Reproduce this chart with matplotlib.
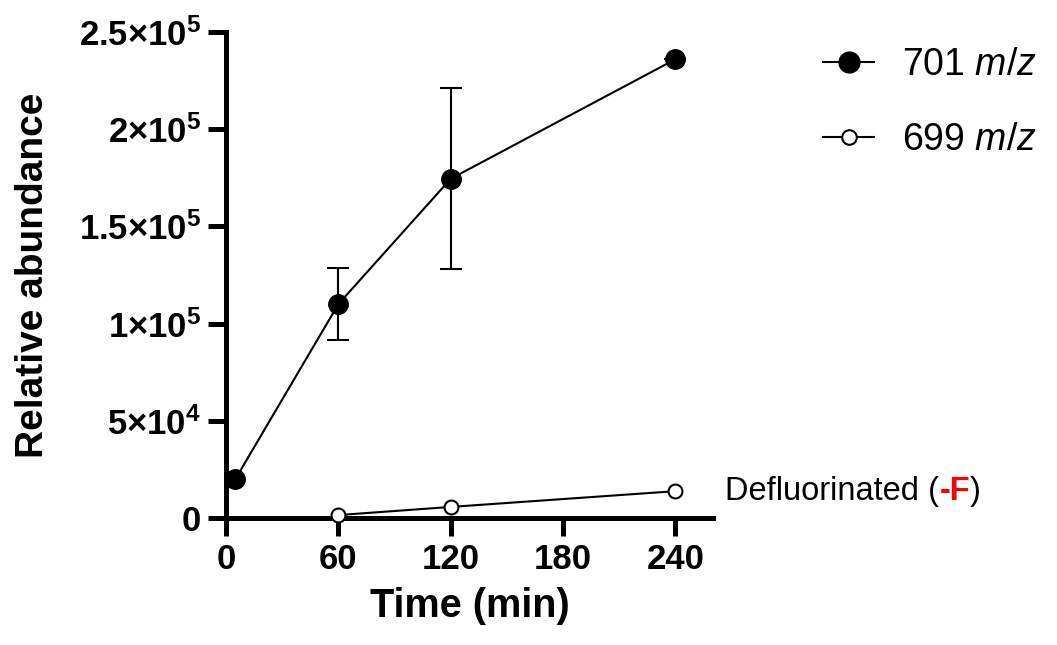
import matplotlib
matplotlib.use("Agg")
import matplotlib.pyplot as plt
from matplotlib.lines import Line2D
from matplotlib.ticker import FixedLocator, FixedFormatter

plt.rcParams['font.family'] = ['Liberation Sans', 'DejaVu Sans']
plt.rcParams['mathtext.fontset'] = 'custom'
plt.rcParams['mathtext.rm'] = 'Liberation Sans'
plt.rcParams['mathtext.it'] = 'Liberation Sans:italic'
plt.rcParams['mathtext.bf'] = 'Liberation Sans:bold'

# time course, minutes
time_701 = [5, 60, 120, 240]
abund_701 = [20000, 110000, 174500, 236000]
err_701 = [0, 18500, 46500, 0]

time_699 = [60, 120, 240]
abund_699 = [1500, 5700, 13800]

x_ticks = [0, 60, 120, 180, 240]
y_ticks = [0, 50000, 100000, 150000, 200000, 250000]
y_tick_labels = ['0', r'5×10$\mathbf{^{4}}$', r'1×10$\mathbf{^{5}}$',
                 r'1.5×10$\mathbf{^{5}}$', r'2×10$\mathbf{^{5}}$',
                 r'2.5×10$\mathbf{^{5}}$']

fig = plt.figure(figsize=(10.57, 6.45), dpi=100)
ax = fig.add_axes([0.2138, 0.1969, 0.4607, 0.7535])

ax.errorbar(time_701, abund_701, yerr=err_701, color='black', lw=1.5,
            marker='o', markersize=14, markerfacecolor='black',
            ecolor='black', elinewidth=1.5, capsize=8, capthick=1.5,
            clip_on=False, zorder=3)
ax.plot(time_699, abund_699, color='black', lw=1.5, marker='o',
        markersize=10, markerfacecolor='white', markeredgewidth=1.5,
        clip_on=False, zorder=3)

ax.set_xlim(0, 260)
ax.set_ylim(0, 250000)
ax.xaxis.set_major_locator(FixedLocator(x_ticks))
ax.yaxis.set_major_locator(FixedLocator(y_ticks))
ax.yaxis.set_major_formatter(FixedFormatter(y_tick_labels))

for side in ['top', 'right']:
    ax.spines[side].set_visible(False)
for side in ['left', 'bottom']:
    ax.spines[side].set_linewidth(3.6)
ax.tick_params(width=3.6, length=13, labelsize=25, pad=5)
for lab in ax.get_xticklabels() + ax.get_yticklabels():
    lab.set_fontweight('bold')

ax.set_xlabel('Time (min)', fontsize=28.5, fontweight='bold', labelpad=8)
ax.set_ylabel('Relative abundance', fontsize=28, fontweight='bold',
              labelpad=20)

handles = [
    Line2D([], [], color='black', lw=1.5, marker='o', markersize=15,
           markerfacecolor='black'),
    Line2D([], [], color='black', lw=1.5, marker='o', markersize=10.5,
           markerfacecolor='white', markeredgewidth=1.5),
]
labels = [r'701 $\mathit{m/z}$', r'699 $\mathit{m/z}$']
fig.legend(handles, labels, loc='upper left', bbox_to_anchor=(0.747, 0.98),
           frameon=False, fontsize=27, handlelength=1.35, handletextpad=0.75,
           labelspacing=1.05)

t1 = ax.annotate('Defluorinated (', xy=(240, abund_699[-1]),
                 xytext=(36, 0), textcoords='offset points',
                 fontsize=23.5, va='center', ha='left',
                 annotation_clip=False)
t2 = ax.annotate('-F', xy=(1, 0), xycoords=t1, va='bottom',
                 fontsize=23.5, fontweight='bold', color='red')
ax.annotate(')', xy=(1, 0), xycoords=t2, va='bottom', fontsize=23.5)

fig.savefig('out.png', dpi=100)
